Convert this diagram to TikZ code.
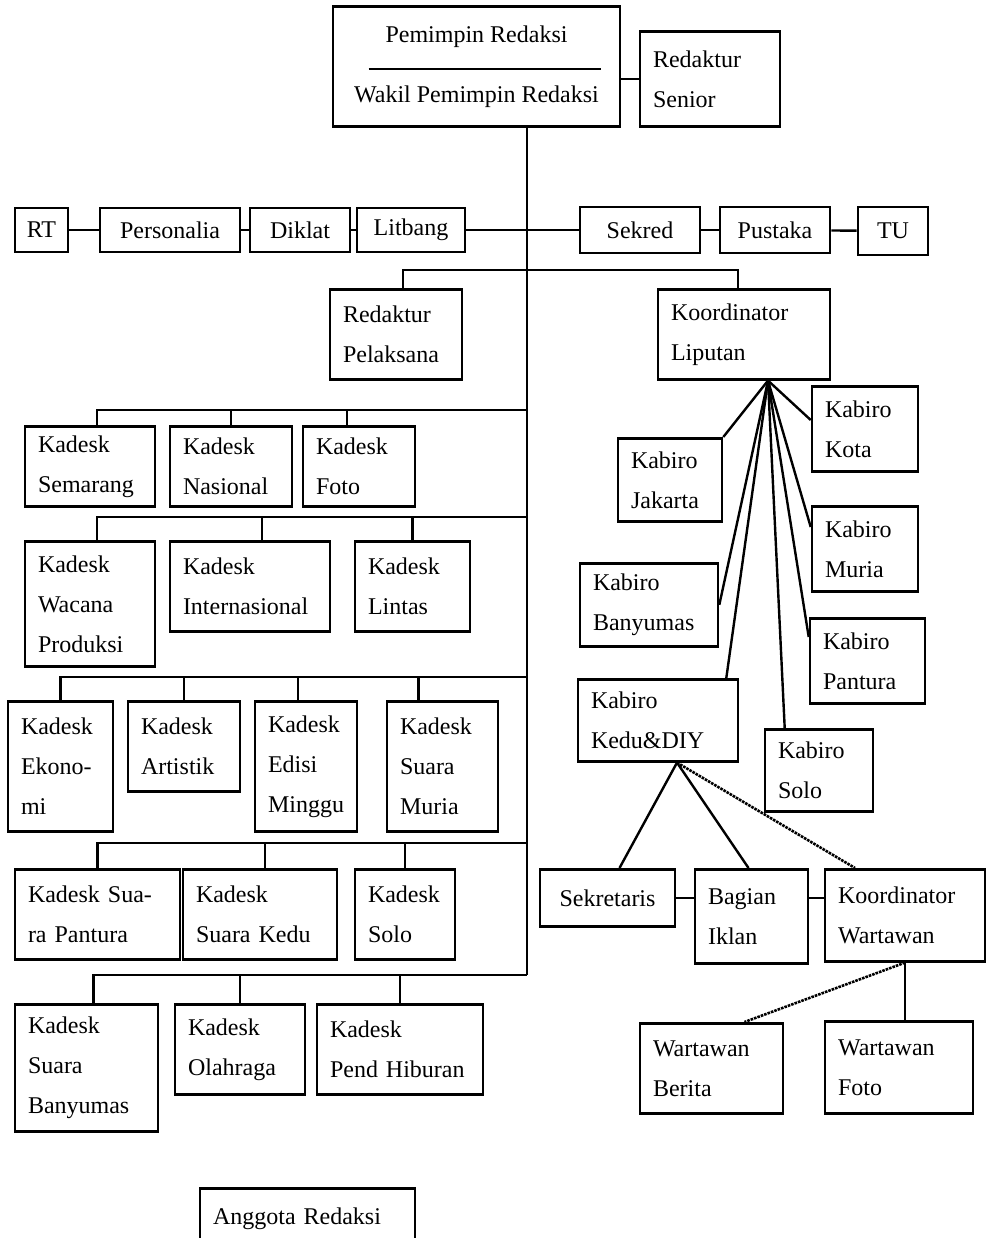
\documentclass[tikz,border=0pt]{standalone}
\usepackage{fontspec}
\setmainfont{Liberation Serif}
\usetikzlibrary{calc}
\newcommand{\orgfont}{\fontsize{24}{40}\selectfont}
\tikzset{
  box/.style={draw, line width=2.6pt, inner xsep=13pt, inner ysep=2pt, align=left, font=\orgfont},
  cbox/.style={box, align=center, inner xsep=2pt},
  link/.style={line width=2.4pt},
  dotlink/.style={line width=2.6pt, densely dotted},
}
\begin{document}
\begin{tikzpicture}[x=1pt,y=-1pt]
\useasboundingbox (0,0) rectangle (989,1238);
% pimpinan
\node[cbox, minimum width=287pt, minimum height=120pt, anchor=north] (pemred) at (476.5,5) {Pemimpin Redaksi\\[20pt]Wakil Pemimpin Redaksi};
\draw[link] ($(pemred.west)+(37,3)$) -- ($(pemred.east)+(-20,3)$);
\node[box, text width=114pt, minimum height=95pt, anchor=north] (senior) at (710,30) {Redaktur\\Senior};
\draw[link] (senior.west -| pemred.east) -- (senior.west);

% staf
\node[cbox, minimum width=53pt, minimum height=44pt] (rt) at (41.5,230) {RT};
\node[cbox, minimum width=140pt, minimum height=44pt] (personalia) at (170,230) {Personalia};
\node[cbox, minimum width=100pt, minimum height=44pt] (diklat) at (300,230) {Diklat};
\node[cbox, minimum width=108pt, minimum height=44pt] (litbang) at (411,230) {Litbang};
\node[cbox, minimum width=120pt, minimum height=46pt] (sekred) at (640,230) {Sekred};
\node[cbox, minimum width=110pt, minimum height=46pt] (pustaka) at (775,230) {Pustaka};
\node[cbox, minimum width=70pt, minimum height=48pt] (tu) at (893,231) {TU};
\draw[link] (rt) -- (personalia);
\draw[link] (personalia) -- (diklat);
\draw[link] (diklat) -- (litbang);
\draw[link] (litbang) -- (sekred);
\draw[link] (sekred) -- (pustaka);
\draw[link] (pustaka) -- (tu);

% batang utama
\coordinate (bus1) at (527,410);
\coordinate (bus2) at (527,517);
\coordinate (bus3) at (527,677);
\coordinate (bus4) at (527,843);
\coordinate (bus5) at (527,975);
\draw[link] (pemred.south -| bus1) -- (bus5);

\node[box, text width=106pt, minimum height=90pt, anchor=north] (pelaksana) at (396,288) {Redaktur\\Pelaksana};
\node[box, text width=146pt, minimum height=90pt, anchor=north] (liputan) at (744,288) {Koordinator\\Liputan};
\draw[link] ($(pelaksana.north)+(7,0)$) -- ++(0,-18) -| ($(liputan.north)+(-6,0)$);

% desk baris 1
\node[box, text width=104pt, minimum height=80pt, anchor=north] (semarang) at (90,425) {Kadesk\\Semarang};
\node[box, text width=96pt, minimum height=80pt, anchor=north] (nasional) at (231,425) {Kadesk\\Nasional};
\node[box, text width=86pt, minimum height=80pt, anchor=north] (foto) at (359,425) {Kadesk\\Foto};
\draw[link] ($(semarang.north)+(7,0)$) |- (bus1);
\draw[link] (nasional.north) -- (nasional.north |- bus1);
\draw[link] ($(foto.north)+(-12,0)$) -- ($(foto.north |- bus1)+(-12,0)$);

% desk baris 2
\node[box, text width=104pt, minimum height=125pt, anchor=north] (wacana) at (90,540) {Kadesk\\Wacana\\Produksi};
\node[box, text width=134pt, minimum height=90pt, anchor=north] (internasional) at (250,540) {Kadesk\\Internasional};
\node[box, text width=89pt, minimum height=90pt, anchor=north] (lintas) at (412.5,540) {Kadesk\\Lintas};
\draw[link] ($(wacana.north)+(7,0)$) |- (bus2);
\draw[link] ($(internasional.north)+(12,0)$) -- ($(internasional.north |- bus2)+(12,0)$);
\draw[link] (lintas.north) -- (lintas.north |- bus2);

% desk baris 3
\node[box, text width=79pt, minimum height=130pt, anchor=north] (ekonomi) at (60.5,700) {Kadesk\\Ekono-\\mi};
\node[box, text width=86pt, minimum height=90pt, anchor=north] (artistik) at (184,700) {Kadesk\\Artistik};
\node[box, text width=76pt, minimum height=130pt, anchor=north] (minggu) at (306,700) {Kadesk\\Edisi\\Minggu};
\node[box, text width=85pt, minimum height=130pt, anchor=north] (muria) at (442.5,700) {Kadesk\\Suara\\Muria};
\draw[link] (ekonomi.north) |- (bus3);
\draw[link] (artistik.north) -- (artistik.north |- bus3);
\draw[link] ($(minggu.north)+(-8,0)$) -- ($(minggu.north |- bus3)+(-8,0)$);
\draw[link] ($(muria.north)+(-24,0)$) -- ($(muria.north |- bus3)+(-24,0)$);

% desk baris 4
\node[box, text width=139pt, minimum height=90pt, anchor=north] (pantura) at (97.5,868) {Kadesk Sua-\\ra Pantura};
\node[box, text width=128pt, minimum height=90pt, anchor=north] (kedu) at (260,868) {Kadesk\\Suara Kedu};
\node[box, text width=74pt, minimum height=90pt, anchor=north] (solo) at (405,868) {Kadesk\\Solo};
\draw[link] (pantura.north) |- (bus4);
\draw[link] ($(kedu.north)+(5,0)$) -- ($(kedu.north |- bus4)+(5,0)$);
\draw[link] (solo.north) -- (solo.north |- bus4);

% desk baris 5
\node[box, text width=117pt, minimum height=127pt, anchor=north] (banyumas) at (86.5,1003) {Kadesk\\Suara\\Banyumas};
\node[box, text width=104pt, minimum height=90pt, anchor=north] (olahraga) at (240,1003) {Kadesk\\Olahraga};
\node[box, text width=140pt, minimum height=90pt, anchor=north] (hiburan) at (400,1003) {Kadesk\\Pend Hiburan};
\draw[link] ($(banyumas.north)+(7,0)$) |- (bus5);
\draw[link] (olahraga.north) -- (olahraga.north |- bus5);
\draw[link] (hiburan.north) -- (hiburan.north |- bus5);

\node[box, text width=189pt, minimum height=60pt, anchor=north] (anggota) at (307.5,1187) {Anggota Redaksi};

% biro
\coordinate (hub) at ($(liputan.south)+(24,0)$);
\node[box, text width=78pt, minimum height=83pt, anchor=north] (jakarta) at (670,437) {Kabiro\\Jakarta};
\node[box, text width=80pt, minimum height=85pt, anchor=north] (kota) at (865,385) {Kabiro\\Kota};
\node[box, text width=80pt, minimum height=85pt, anchor=north] (kmuria) at (865,505) {Kabiro\\Muria};
\node[box, text width=112pt, minimum height=83pt, anchor=north] (kbanyumas) at (649,562) {Kabiro\\Banyumas};
\node[box, text width=89pt, minimum height=85pt, anchor=north] (kpantura) at (867.5,617) {Kabiro\\Pantura};
\node[box, text width=134pt, minimum height=82pt, anchor=north] (kedudiy) at (658,678) {Kabiro\\Kedu\&DIY};
\node[box, text width=82pt, minimum height=82pt, anchor=north] (ksolo) at (819,728) {Kabiro\\Solo};
\draw[link] (hub) -- (jakarta.north east);
\draw[link] (hub) -- ($(kota.north west)+(0,35)$);
\draw[link] (hub) -- ($(kmuria.north west)+(0,22)$);
\draw[link] (hub) -- (kbanyumas.east);
\draw[link] (hub) -- ($(kpantura.north west)+(0,20)$);
\draw[link] (hub) -- ($(kedudiy.north east)+(-13,0)$);
\draw[link] (hub) -- ($(ksolo.north west)+(21,0)$);

% di bawah kabiro kedu & diy
\coordinate (dhub) at ($(kedudiy.south)+(19,0)$);
\node[cbox, minimum width=135pt, minimum height=57pt, anchor=north] (sekretaris) at (607.5,868) {Sekretaris};
\node[box, text width=87pt, minimum height=94pt, anchor=north] (iklan) at (751.5,868) {Bagian\\Iklan};
\node[box, text width=134pt, minimum height=92pt, anchor=north] (korwar) at (905,868) {Koordinator\\Wartawan};
\draw[link] (dhub) -- ($(sekretaris.north)+(12,0)$);
\draw[link] (dhub) -- ($(iklan.north)+(-3,0)$);
\draw[dotlink] (dhub) -- ($(korwar.north)+(-50,0)$);
\draw[link] (sekretaris.east) -- (sekretaris.east -| iklan.west);
\draw[link] (sekretaris.east -| iklan.east) -- (sekretaris.east -| korwar.west);

\node[box, text width=117pt, minimum height=90pt, anchor=north] (berita) at (711.5,1022) {Wartawan\\Berita};
\node[box, text width=122pt, minimum height=92pt, anchor=north] (wfoto) at (899,1020) {Wartawan\\Foto};
\draw[link] (korwar.south) -- (korwar.south |- wfoto.north);
\draw[dotlink] (korwar.south) -- ($(berita.north)+(33,0)$);
\end{tikzpicture}
\end{document}
